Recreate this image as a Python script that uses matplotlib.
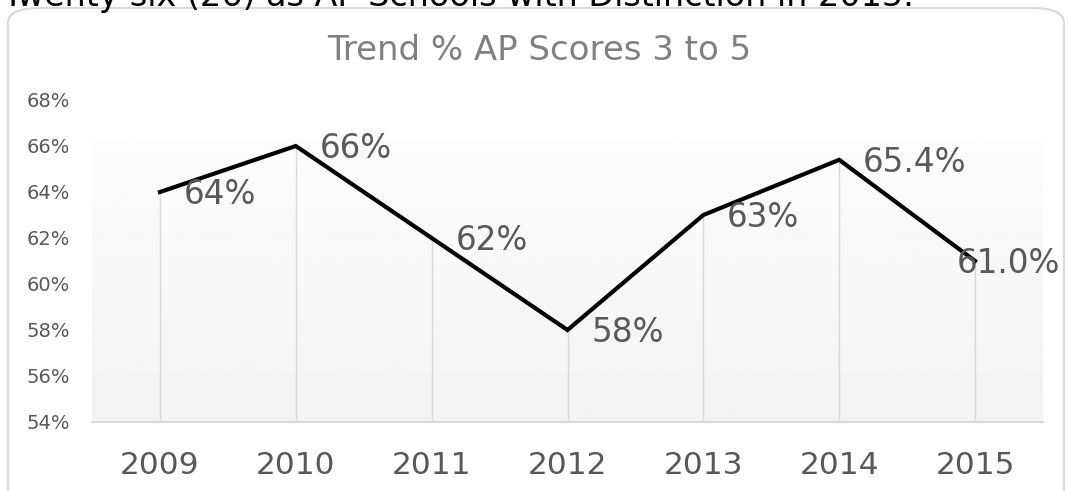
import numpy as np
import matplotlib.pyplot as plt
from matplotlib.patches import FancyBboxPatch

# Datos del gráfico
years = ['2009', '2010', '2011', '2012', '2013', '2014', '2015']
pct = [64.0, 66.0, 62.0, 58.0, 63.0, 65.4, 61.0]
labels = ['64%', '66%', '62%', '58%', '63%', '65.4%', '61.0%']
y_ticks = [54, 56, 58, 60, 62, 64, 66, 68]

W, H = 1069, 491
fig = plt.figure(figsize=(W / 100, H / 100), dpi=100)
fig.patch.set_facecolor('white')

# Texto de arriba (cortado por el borde de la figura)
fig.text(2 / W, 1 - 6 / H, 'Twenty-six (26) as AP Schools with Distinction in 2015.',
         fontsize=24, color='black', ha='left', va='baseline')

# Marco redondeado del gráfico
box = FancyBboxPatch((8 / W, -20 / H), 1056 / W, (H + 20 - 8) / H,
                     boxstyle='round,pad=0,rounding_size=0.03',
                     transform=fig.transFigure, facecolor='white',
                     edgecolor='#d9d9d9', lw=1.5, zorder=-5)
fig.patches.append(box)

ax = fig.add_axes([92 / W, (H - 422) / H, (1043 - 92) / W, (422 - 100) / H])
ax.set_zorder(2)
ax.set_facecolor('none')
x = np.arange(len(years))

ax.set_xlim(-0.5, len(years) - 0.5)
ax.set_ylim(54, 68)

# Degradado del área de trazado
grad = np.linspace(0.99, 0.95, 256).reshape(-1, 1)
ax.imshow(grad, cmap='gray', vmin=0, vmax=1, aspect='auto',
          extent=[-0.5, len(years) - 0.5, 54, 66.26], zorder=0)

# Líneas de caída
ax.vlines(x, 54, pct, color='#d9d9d9', lw=1, zorder=1)

ax.plot(x, pct, color='black', lw=3, solid_joinstyle='miter', zorder=3)

for i, (v, lab) in enumerate(zip(pct, labels)):
    dx = 17 if i < len(pct) - 1 else -13
    ax.annotate(lab, (x[i], v), xytext=(dx, -2), textcoords='offset points',
                ha='left', va='center', fontsize=23.5, color='#595959', zorder=4)

fig.text(539 / W, 1 - 60 / H, 'Trend % AP Scores 3 to 5', fontsize=24.5,
         color='#808080', ha='center', va='baseline')

ax.set_xticks(x)
ax.set_xticklabels(years, fontsize=22.5, color='#595959')
ax.set_yticks(y_ticks)
ax.set_yticklabels([f'{t}%' for t in y_ticks], fontsize=14, color='#595959')
ax.tick_params(axis='both', length=0)
ax.tick_params(axis='x', pad=21)
ax.tick_params(axis='y', pad=16)

for s in ['top', 'right', 'left']:
    ax.spines[s].set_visible(False)
ax.spines['bottom'].set_color('#d9d9d9')
ax.spines['bottom'].set_linewidth(1.5)

fig.savefig('out.png', dpi=100)
